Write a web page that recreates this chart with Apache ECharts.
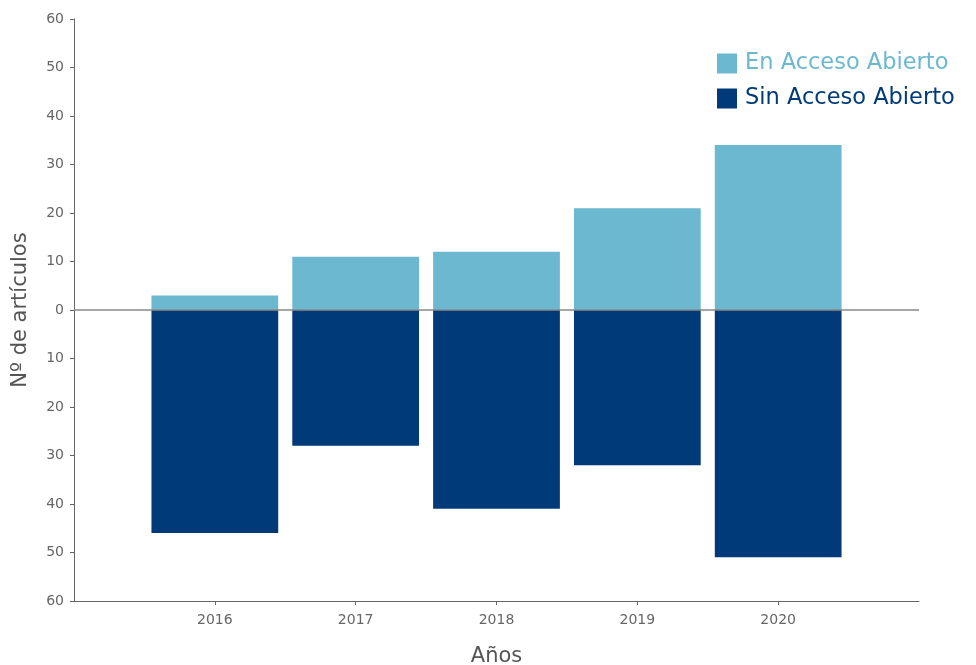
<!DOCTYPE html>
<html><head><meta charset="utf-8">
<script src="https://cdn.jsdelivr.net/npm/echarts@6/dist/echarts.min.js"></script>
<style>html,body{margin:0;padding:0;background:#fff}#c{width:976px;height:665px}</style>
</head><body><div id="c"></div>
<script>
const categories = ['', '2016', '2017', '2018', '2019', '2020', ''];
const enAcceso = [null, 3, 11, 12, 21, 34, null];
const sinAcceso = [null, 46, 28, 41, 32, 51, null];
const yTicks = [-60, -50, -40, -30, -20, -10, 0, 10, 20, 30, 40, 50, 60];

const FONT = '"DejaVu Sans", "Noto Sans", sans-serif';
const chart = echarts.init(document.getElementById('c'));
chart.setOption({
  animation: false,
  textStyle: { fontFamily: FONT },
  grid: { left: 74, right: 57, top: 19, bottom: 64, containLabel: false, outerBoundsMode: 'none' },
  legend: {
    orient: 'vertical', left: 717, top: 52, padding: 0, itemWidth: 20, itemHeight: 20, itemGap: 12,
    icon: 'rect',
    data: [
      { name: 'En Acceso Abierto', textStyle: { color: '#6BB8D0' } },
      { name: 'Sin Acceso Abierto', textStyle: { color: '#003A78' } }
    ],
    textStyle: { fontSize: 22.5, fontFamily: FONT, padding: [0, 0, 0, 3] }
  },
  xAxis: {
    type: 'category', data: categories, boundaryGap: false,
    name: 'Años', nameLocation: 'middle', nameGap: 45,
    nameTextStyle: { fontSize: 21, color: '#555', fontFamily: FONT },
    axisLine: { onZero: false, lineStyle: { color: '#666', width: 1 } },
    axisTick: { length: 4, interval: (i, v) => v !== '', lineStyle: { color: '#666' } },
    axisLabel: { fontSize: 14, color: '#666', margin: 12, interval: 0 }
  },
  yAxis: {
    type: 'value', min: yTicks[0], max: yTicks[yTicks.length - 1], interval: 10,
    name: 'Nº de artículos', nameLocation: 'middle', nameGap: 43, nameRotate: 90,
    nameTextStyle: { fontSize: 21, color: '#555', fontFamily: FONT },
    axisLine: { show: true, lineStyle: { color: '#666', width: 1 } },
    axisTick: { show: true, length: 4, lineStyle: { color: '#666' } },
    splitLine: { show: false },
    axisLabel: { fontSize: 14, color: '#666', margin: 10, formatter: v => String(Math.abs(v)) }
  },
  series: [
    {
      name: 'En Acceso Abierto', type: 'bar', stack: 't', data: enAcceso,
      itemStyle: { color: '#6BB8D0' }, barWidth: '90%'
    },
    {
      name: 'Sin Acceso Abierto', type: 'bar', stack: 't', data: sinAcceso.map(v => v == null ? null : -v),
      itemStyle: { color: '#003A78' }, barWidth: '90%',
      markLine: {
        silent: true, symbol: 'none', label: { show: false },
        lineStyle: { color: '#888', width: 1.5, type: 'solid' },
        data: [{ yAxis: 0 }]
      }
    }
  ]
});
</script></body></html>
